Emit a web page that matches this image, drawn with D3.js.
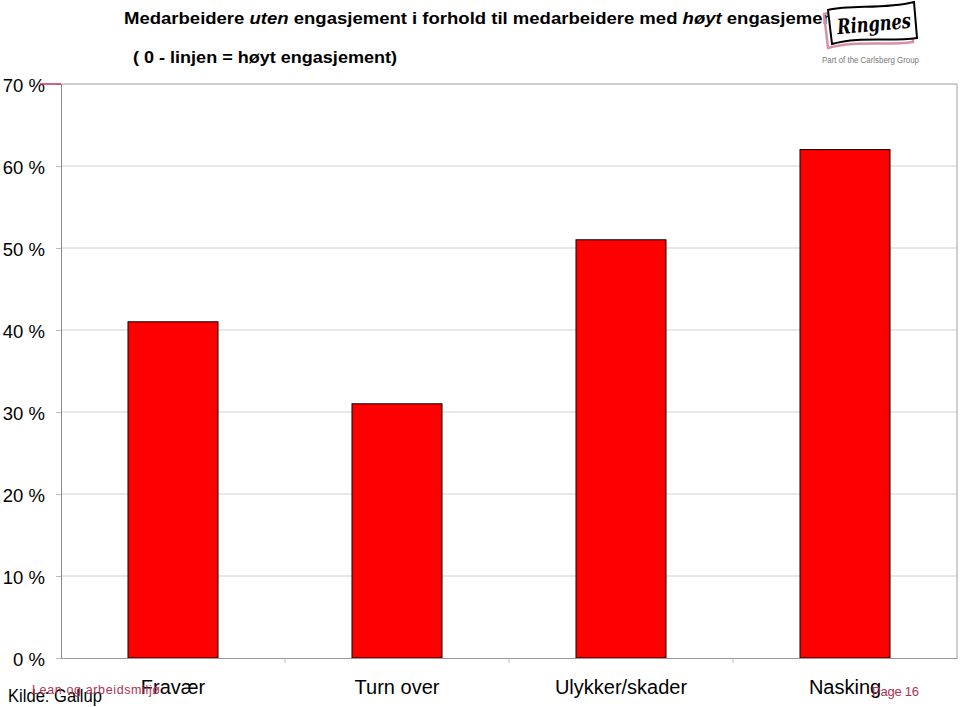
<!DOCTYPE html>
<html><head><meta charset="utf-8">
<script src="https://cdn.jsdelivr.net/npm/d3@7"></script>
<style>body{margin:0;background:#fff}svg{display:block}</style>
</head><body>
<script>
const categories = ["Fravær", "Turn over", "Ulykker/skader", "Nasking"];
const values = [41, 31, 51, 62];
const yTicks = [0, 10, 20, 30, 40, 50, 60, 70];

const W = 960, H = 707;
const m = {left: 61, right: 3, top: 84, bottom: 49};
const svg = d3.select("body").append("svg").attr("width", W).attr("height", H);
const font = "'Liberation Sans', Arial, sans-serif";

const x = d3.scaleBand().domain(categories).range([m.left, W - m.right]).paddingInner(0).paddingOuter(0);
const y = d3.scaleLinear().domain([0, 70]).range([H - m.bottom, m.top]);

// gridlines
svg.append("g").selectAll("line").data(yTicks.slice(1, -1)).join("line")
  .attr("x1", m.left).attr("x2", W - m.right)
  .attr("y1", d => y(d)).attr("y2", d => y(d))
  .attr("stroke", "#d0d0d0").attr("stroke-width", 1);

// frame top/right
svg.append("line").attr("x1", m.left).attr("x2", W - m.right).attr("y1", y(70)).attr("y2", y(70)).attr("stroke", "#a0a0a0");
svg.append("line").attr("x1", W - m.right).attr("x2", W - m.right).attr("y1", y(70)).attr("y2", y(0)).attr("stroke", "#a0a0a0");

// bars
const bw = 90;
svg.append("g").selectAll("rect").data(values).join("rect")
  .attr("x", (d, i) => x(categories[i]) + x.bandwidth() / 2 - bw / 2)
  .attr("width", bw)
  .attr("y", d => y(d))
  .attr("height", d => y(0) - y(d))
  .attr("fill", "#ff0000").attr("stroke", "#000").attr("stroke-width", 1);

// y axis
const yAxis = svg.append("g").attr("transform", `translate(${m.left},0)`)
  .call(d3.axisLeft(y).tickValues(yTicks).tickSize(5).tickFormat(d => d + " %"));
yAxis.select(".domain").attr("stroke", "#888");
yAxis.selectAll(".tick line").attr("stroke", "#bbb");
yAxis.selectAll(".tick text").attr("x", -16).attr("dy", "0.4em")
  .attr("font-family", font).attr("font-size", 18.5).attr("fill", "#000");

// x axis
const xAxis = svg.append("g").attr("transform", `translate(0,${y(0)})`)
  .call(d3.axisBottom(x).tickSize(0).tickFormat(d => d));
xAxis.select(".domain").attr("stroke", "#999");
xAxis.selectAll(".tick text").attr("y", 36).attr("dy", 0)
  .attr("font-family", font).attr("font-size", 20).attr("fill", "#000");
// category boundary ticks
svg.append("g").selectAll("line").data(categories.slice(1)).join("line")
  .attr("x1", d => x(d)).attr("x2", d => x(d))
  .attr("y1", y(0)).attr("y2", y(0) + 5).attr("stroke", "#bbb");

// red 70% marker
svg.append("line").attr("x1", 40).attr("x2", m.left).attr("y1", y(70)).attr("y2", y(70))
  .attr("stroke", "#c0305a").attr("stroke-width", 1.5);

// title
const t1 = svg.append("text").attr("x", 124).attr("y", 24)
  .attr("font-family", font).attr("font-size", 17).attr("font-weight", "bold").attr("fill", "#000")
  .attr("textLength", 716).attr("lengthAdjust", "spacingAndGlyphs");
t1.append("tspan").text("Medarbeidere ");
t1.append("tspan").attr("font-style", "italic").text("uten");
t1.append("tspan").text(" engasjement i forhold til medarbeidere med ");
t1.append("tspan").attr("font-style", "italic").text("høyt");
t1.append("tspan").text(" engasjement");

svg.append("text").attr("x", 133).attr("y", 63)
  .attr("font-family", font).attr("font-size", 17).attr("font-weight", "bold").attr("fill", "#000")
  .attr("textLength", 264).attr("lengthAdjust", "spacingAndGlyphs")
  .text("( 0 - linjen = høyt engasjement)");

// logo
const logo = svg.append("g");
logo.append("path").attr("d", "M824,14 C848,8 878,14 910,6 L913,42 C886,46 856,40 828,48 Z")
  .attr("fill", "none").attr("stroke", "#d890a8").attr("stroke-width", 2.5);
logo.append("path").attr("d", "M828,10 C852,4 882,10 914,2 L917,38 C890,42 860,36 832,44 Z")
  .attr("fill", "#fff").attr("stroke", "#000").attr("stroke-width", 2);
logo.append("text").attr("x", 874).attr("y", 31).attr("text-anchor", "middle")
  .attr("font-family", "'DejaVu Serif', serif").attr("font-size", 21).attr("font-weight", "bold")
  .attr("font-style", "italic").attr("fill", "#000").attr("transform", "rotate(-5,874,24)")
  .attr("textLength", 74).attr("lengthAdjust", "spacingAndGlyphs")
  .text("Ringnes");
logo.append("text").attr("x", 822).attr("y", 63)
  .attr("font-family", font).attr("font-size", 8.5).attr("fill", "#777")
  .attr("textLength", 97).attr("lengthAdjust", "spacingAndGlyphs").text("Part of the Carlsberg Group");

// footer
svg.append("text").attr("x", 8).attr("y", 702).attr("font-family", font).attr("font-size", 17.5).attr("fill", "#000")
  .attr("textLength", 94).attr("lengthAdjust", "spacingAndGlyphs").text("Kilde: Gallup");
svg.append("text").attr("x", 32).attr("y", 694).attr("font-family", font).attr("font-size", 12.5).attr("fill", "#b03050")
  .attr("textLength", 128).attr("lengthAdjust", "spacing").text("Lean og arbeidsmiljø");
svg.append("text").attr("x", 872).attr("y", 696).attr("font-family", font).attr("font-size", 13).attr("fill", "#b03050")
  .attr("textLength", 47).attr("lengthAdjust", "spacing").text("Page 16");
</script>
</body></html>
